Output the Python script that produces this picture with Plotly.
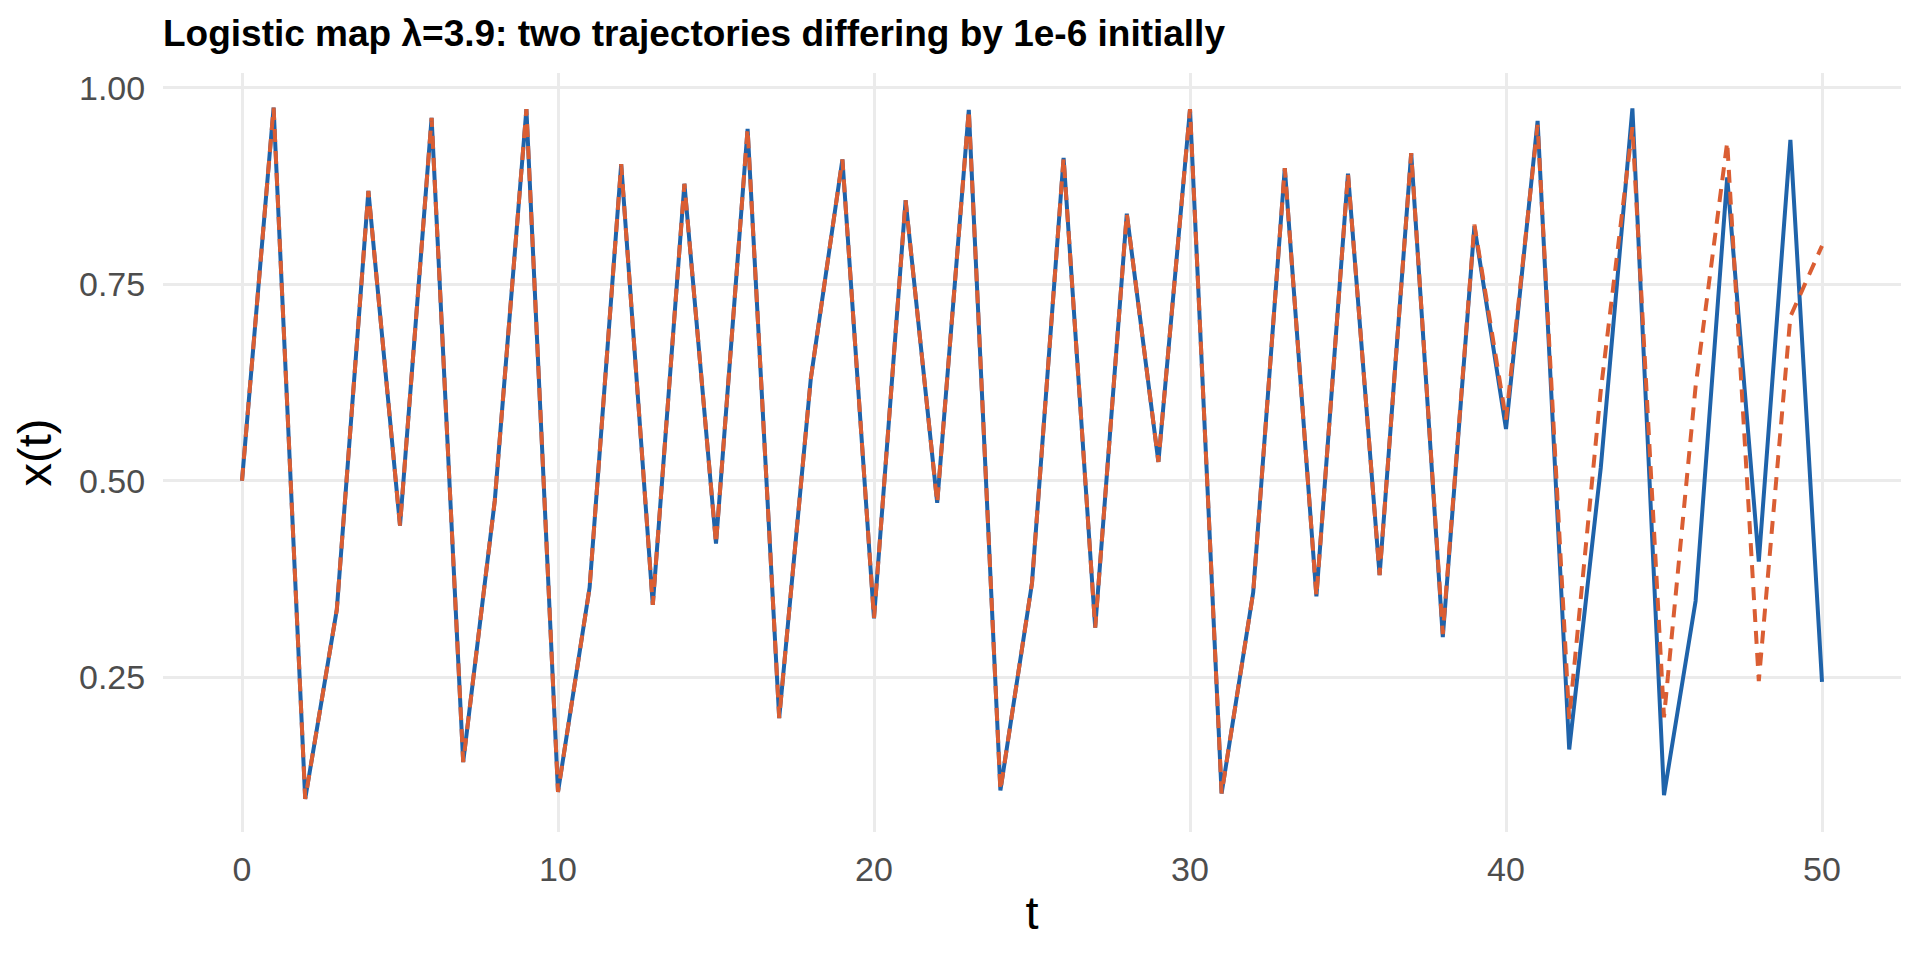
import plotly.graph_objects as go

# time steps and the two trajectories (x0 = 0.5 and x0 = 0.5 + 1e-6)
t = list(range(51))
x_a = [0.500, 0.975, 0.095, 0.336, 0.869, 0.443, 0.962, 0.142, 0.475, 0.973,
       0.104, 0.364, 0.903, 0.342, 0.878, 0.420, 0.948, 0.198, 0.630, 0.909,
       0.325, 0.857, 0.472, 0.972, 0.106, 0.370, 0.911, 0.313, 0.840, 0.524,
       0.973, 0.102, 0.358, 0.898, 0.353, 0.891, 0.380, 0.917, 0.301, 0.824,
       0.566, 0.958, 0.158, 0.517, 0.974, 0.100, 0.347, 0.886, 0.397, 0.934,
       0.244]
x_b = [0.500, 0.975, 0.095, 0.336, 0.869, 0.443, 0.962, 0.142, 0.475, 0.973,
       0.104, 0.364, 0.903, 0.342, 0.878, 0.420, 0.948, 0.198, 0.630, 0.909,
       0.325, 0.857, 0.472, 0.972, 0.106, 0.370, 0.911, 0.313, 0.840, 0.524,
       0.973, 0.102, 0.358, 0.898, 0.353, 0.891, 0.380, 0.917, 0.305, 0.826,
       0.578, 0.953, 0.197, 0.615, 0.950, 0.199, 0.620, 0.931, 0.245, 0.709,
       0.799]

x_ticks = [0, 10, 20, 30, 40, 50]
y_ticks = [0.25, 0.50, 0.75, 1.00]
y_labels = ["0.25", "0.50", "0.75", "1.00"]

fig = go.Figure()
fig.add_trace(go.Scatter(x=t, y=x_a, mode="lines",
                         line=dict(color="#1F63AA", width=4)))
fig.add_trace(go.Scatter(x=t, y=x_b, mode="lines",
                         line=dict(color="#DA5E33", width=4, dash="13px,9px")))

# page body has an 8px margin, so the figure is 8px smaller than the window
fig.update_layout(
    width=1912, height=952,
    paper_bgcolor="white", plot_bgcolor="white",
    showlegend=False,
    margin=dict(l=155, r=19, t=65, b=128),
    font=dict(family="Liberation Sans, Arial, sans-serif", color="#4D4D4D"),
    title=dict(
        text="<b>Logistic map λ=3.9: two trajectories differing by 1e-6 initially</b>",
        font=dict(family="Liberation Sans, Arial, sans-serif", size=37, color="black"),
        x=0, xref="paper", xanchor="left",
        y=1 - 25 / 952, yref="container", yanchor="middle",
    ),
)
fig.update_xaxes(
    range=[-2.5, 52.5], tickvals=x_ticks, showgrid=True, gridcolor="#EBEBEB",
    gridwidth=2.5, zeroline=False, showline=False,
    ticks="outside", ticklen=7, tickcolor="rgba(0,0,0,0)",
    tickfont=dict(size=34, color="#4D4D4D"),
    title=dict(text="t", font=dict(size=47, color="black"), standoff=9),
)
fig.update_yaxes(
    range=[0.053, 1.019], tickvals=y_ticks, ticktext=y_labels, showgrid=True,
    gridcolor="#EBEBEB", gridwidth=2.5, zeroline=False, showline=False,
    ticks="outside", ticklen=10, tickcolor="rgba(0,0,0,0)",
    tickfont=dict(size=34, color="#4D4D4D"),
    title=dict(text="x(t)", font=dict(size=47, color="black"), standoff=12),
)

fig.write_html("out.html")
